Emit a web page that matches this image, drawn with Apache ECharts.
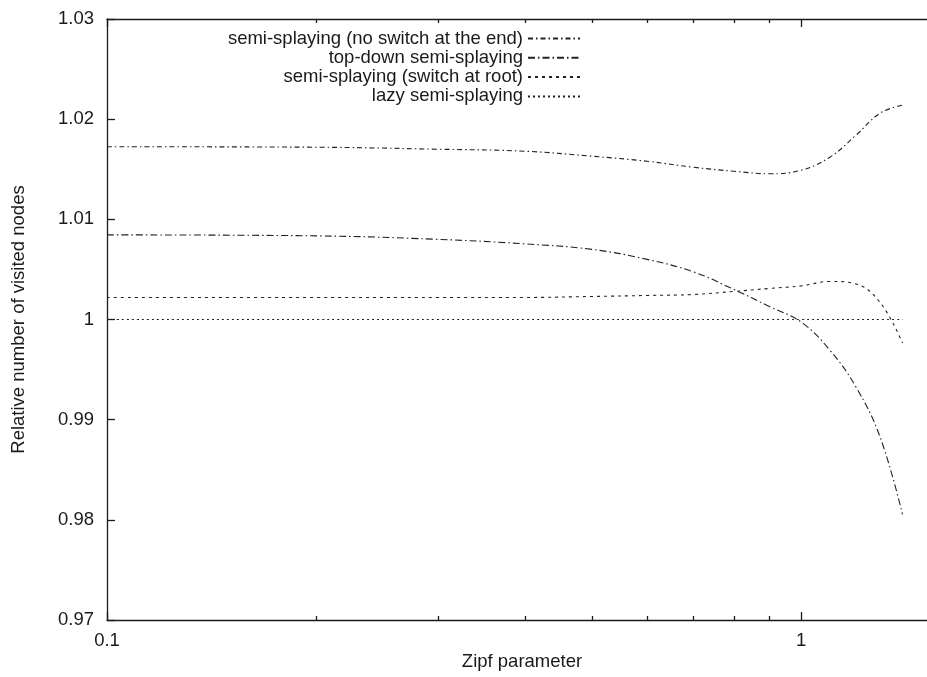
<!DOCTYPE html>
<html>
<head>
<meta charset="utf-8">
<script src="https://cdn.jsdelivr.net/npm/echarts@6/dist/echarts.min.js"></script>
<style>
html,body{margin:0;padding:0;background:#fff;}
#chart{width:927px;height:677px;}
</style>
</head>
<body>
<div id="chart"></div>
<script>
// Zipf parameter values (x, log scale)
const zipf = [0.1, 0.2, 0.3, 0.4, 0.5, 0.6, 0.7, 0.8, 0.9, 1.0, 1.1, 1.2, 1.3, 1.4];
// Relative number of visited nodes per variant
const noSwitchEnd  = [1.01725, 1.0172, 1.0170, 1.0168, 1.0163, 1.0158, 1.0152, 1.0148, 1.01455, 1.0149, 1.0162, 1.0184, 1.0206, 1.0214];
const topDown      = [1.00845, 1.00835, 1.0080, 1.00755, 1.0070, 1.0060, 1.00475, 1.0030, 1.0013, 0.99975, 0.99695, 0.99325, 0.98825, 0.98055];
const switchAtRoot = [1.0022, 1.0022, 1.0022, 1.0022, 1.0023, 1.0024, 1.0025, 1.0028, 1.0031, 1.00335, 1.0038, 1.00355, 1.0017, 0.99765];
const lazy         = [1.0, 1.0, 1.0, 1.0, 1.0, 1.0, 1.0, 1.0, 1.0, 1.0, 1.0, 1.0, 1.0, 1.0];
const seriesNames = ['semi-splaying (no switch at the end)', 'top-down semi-splaying', 'semi-splaying (switch at root)', 'lazy semi-splaying'];
// Tick labels
const xMajorTicks = [0.1, 1];
const xMinorTicks = [0.2, 0.3, 0.4, 0.5, 0.6, 0.7, 0.8, 0.9];
const xAxisTitle = 'Zipf parameter';
const yAxisTitle = 'Relative number of visited nodes';

const FONT = 'Liberation Sans';
const FS = 18.5;
const INK = '#1a1a1a';

function pairs(ys) { return zipf.map((x, i) => [x, ys[i]]); }

const baseX = {
  type: 'log', logBase: 10, min: 0.1, max: 2, gridIndex: 0,
  splitLine: { show: false }, minorTick: { show: false }, minorSplitLine: { show: false }
};
function xAx(pos, values, len, withLine, withLabel) {
  return Object.assign({}, baseX, {
    position: pos,
    axisLine: { show: withLine, onZero: false, lineStyle: { color: INK, width: 1.3 } },
    axisTick: { show: true, inside: true, length: len, customValues: values, lineStyle: { color: INK, width: 1.3 } },
    axisLabel: withLabel ? {
      show: true, customValues: values, margin: 11, fontFamily: FONT, fontSize: FS, color: INK,
      formatter: v => String(+Number(v).toPrecision(3))
    } : { show: false }
  });
}

const lineStyles = [
  { type: [5, 3, 1.5, 3] },
  { type: [7, 3, 1.5, 3] },
  { type: [3, 4] },
  { type: [2, 3] }
];
const dataSets = [noSwitchEnd, topDown, switchAtRoot, lazy];

const chart = echarts.init(document.getElementById('chart'), null, { renderer: 'canvas' });
chart.setOption({
  backgroundColor: '#fff',
  animation: false,
  grid: { left: 107, top: 19, width: 903, height: 601, containLabel: false, outerBoundsMode: 'none' },
  xAxis: [
    xAx('bottom', xMajorTicks, 8, true, true),
    xAx('bottom', xMinorTicks, 4, false, false),
    xAx('top', xMajorTicks, 8, true, false),
    xAx('top', xMinorTicks, 4, false, false)
  ],
  yAxis: {
    type: 'value', min: 0.97, max: 1.03, interval: 0.01,
    name: yAxisTitle, nameLocation: 'middle', nameGap: 79, nameRotate: 90,
    nameTextStyle: { fontFamily: FONT, fontSize: FS, color: INK },
    axisLine: { show: true, lineStyle: { color: INK, width: 1.3 } },
    axisTick: { show: true, inside: true, length: 8, lineStyle: { color: INK, width: 1.3 } },
    axisLabel: { margin: 13, fontFamily: FONT, fontSize: FS, color: INK,
      formatter: v => String(+Number(v).toFixed(2)) },
    splitLine: { show: false }
  },
  legend: {
    orient: 'vertical', align: 'right', right: 341, top: 24,
    itemWidth: 52, itemHeight: 12, itemGap: 0.3,
    itemStyle: { color: 'rgba(0,0,0,0)', borderWidth: 0, opacity: 0 },
    textStyle: { fontFamily: FONT, fontSize: FS, color: INK },
    data: seriesNames
  },
  graphic: [{
    type: 'text',
    style: { text: xAxisTitle, x: 522, y: 662, align: 'center', verticalAlign: 'middle',
      fontFamily: FONT, fontSize: FS, fill: INK }
  }],
  series: dataSets.map((d, i) => ({
    type: 'line', name: seriesNames[i], xAxisIndex: 0, data: pairs(d),
    symbol: 'none', smooth: 0.4,
    lineStyle: Object.assign({ color: '#222', width: 1.1 }, lineStyles[i]),
    itemStyle: { color: '#222' }
  }))
});
</script>
</body>
</html>
